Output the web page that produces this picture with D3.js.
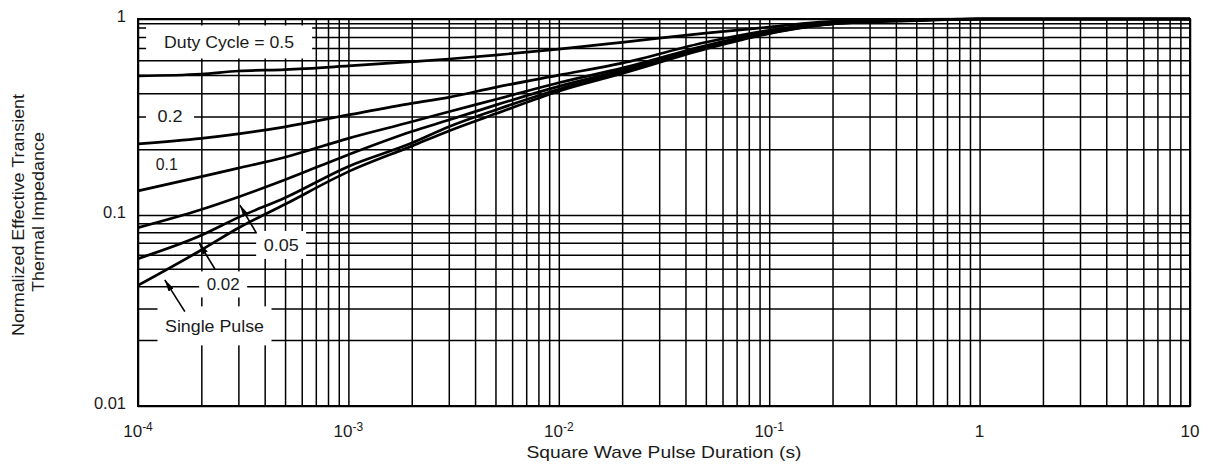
<!DOCTYPE html>
<html><head><meta charset="utf-8">
<script src="https://cdn.jsdelivr.net/npm/d3@7"></script>
<style>
html,body{margin:0;padding:0;background:#fff;}
svg{display:block;font-family:"Liberation Sans",Arial,Helvetica,sans-serif;}
</style></head>
<body><svg id="chart" width="1209" height="466"></svg>
<script>
// ---- data ----
const pulseDuration = [1e-4, 2e-4, 3e-4, 5e-4, 1e-3, 2e-3, 3e-3, 5e-3, 1e-2, 2e-2, 5e-2, 1e-1, 2e-1, 5e-1, 1, 10];
const duty05      = [0.495, 0.507, 0.526, 0.535, 0.56, 0.59, 0.61, 0.64, 0.69, 0.75, 0.84, 0.905, 0.97, 0.995, 1, 1];
const duty02      = [0.214, 0.229, 0.242, 0.264, 0.306, 0.353, 0.38, 0.43, 0.50, 0.58, 0.75, 0.87, 0.955, 0.99, 1, 1];
const duty01      = [0.129, 0.150, 0.164, 0.184, 0.229, 0.281, 0.318, 0.37, 0.455, 0.545, 0.72, 0.855, 0.95, 0.99, 1, 1];
const duty005     = [0.085, 0.106, 0.121, 0.145, 0.189, 0.249, 0.287, 0.345, 0.435, 0.53, 0.71, 0.85, 0.945, 0.985, 1, 1];
const duty002     = [0.057, 0.077, 0.097, 0.12, 0.167, 0.216, 0.264, 0.325, 0.42, 0.52, 0.70, 0.84, 0.94, 0.985, 1, 1];
const singlePulse = [0.0404, 0.0637, 0.0846, 0.112, 0.158, 0.208, 0.251, 0.31, 0.41, 0.51, 0.69, 0.835, 0.94, 0.98, 1, 1];
const seriesList = [duty05, duty02, duty01, duty005, duty002, singlePulse];

const xTickValues = [1e-4, 1e-3, 1e-2, 1e-1, 1, 10];
const xTickBase   = ["10", "10", "10", "10", "1", "10"];
const xTickExp    = ["-4", "-3", "-2", "-1", "", ""];
const yTickValues = [0.01, 0.1, 1];
const yTickLabels = ["0.01", "0.1", "1"];
const yExtraGrid  = [0.95];

const xTitle = "Square Wave Pulse Duration (s)";
const yTitle1 = "Normalized Effective Transient";
const yTitle2 = "Thermal Impedance";

// annotation labels, anchored in data space
const labels = [
  {text: "Duty Cycle = 0.5", t: 2.71e-4, z: 0.753},
  {text: "0.2",  t: 1.42e-4, z: 0.302},
  {text: "0.1",  t: 1.37e-4, z: 0.171},
  {text: "0.05", t: 4.79e-4, z: 0.068},
  {text: "0.02", t: 2.54e-4, z: 0.0409},
  {text: "Single Pulse", t: 2.31e-4, z: 0.024}
];
const arrows = [
  {t0: 3.66e-4, z0: 0.079,  t1: 3.05e-4, z1: 0.111},
  {t0: 2.32e-4, z0: 0.0499, t1: 1.95e-4, z1: 0.0698},
  {t0: 1.67e-4, z0: 0.0288, t1: 1.34e-4, z1: 0.0434}
];

// ---- layout / style ----
const L = 138, R = 1190, T = 19, B = 406;
const labelStyle = [
  {w: 130, bw: 166, bh: 33},
  {w: 25,  bw: 48,  bh: 30},
  {w: 22,  bw: 40,  bh: 22},
  {w: 35,  bw: 50,  bh: 28},
  {w: 33,  bw: 48,  bh: 26},
  {w: 99,  bw: 114, bh: 39}
];
const ink = "#1a1a1a";

const svg = d3.select("#chart");
const x = d3.scaleLog().domain([1e-4, 10]).range([L, R]);
const y = d3.scaleLog().domain([0.01, 0.02, 0.1, 0.2, 1]).range([B, 340, 215, 149.3, T]);

// grid values
const xGrid = [];
for (let e = -4; e <= 0; e++) for (let k = 1; k <= 9; k++) xGrid.push(k * Math.pow(10, e));
xGrid.push(10);
const yGrid = [];
for (let e = -2; e <= -1; e++) for (let k = 1; k <= 9; k++) yGrid.push(+(k * Math.pow(10, e)).toFixed(4));
yGrid.push(...yExtraGrid, 1);

const gx = svg.append("g").attr("transform", `translate(0,${B})`)
  .call(d3.axisBottom(x).tickValues(xGrid).tickSize(-(B - T)).tickFormat(""));
gx.select(".domain").remove();
gx.selectAll("line").attr("stroke", "#000").attr("stroke-width", 1.5);

const gy = svg.append("g").attr("transform", `translate(${L},0)`)
  .call(d3.axisLeft(y).tickValues(yGrid).tickSize(-(R - L)).tickFormat(""));
gy.select(".domain").remove();
gy.selectAll("line").attr("stroke", "#000").attr("stroke-width", 1.5);

svg.append("rect").attr("x", L).attr("y", T).attr("width", R - L).attr("height", B - T)
  .attr("fill", "none").attr("stroke", "#000").attr("stroke-width", 2);

// label background boxes (hide grid behind labels)
labels.forEach((d, i) => {
  const s = labelStyle[i];
  svg.append("rect")
    .attr("x", x(d.t) - s.bw / 2).attr("y", y(d.z) - s.bh / 2)
    .attr("width", s.bw).attr("height", s.bh).attr("fill", "#fff");
});

// curves
const line = d3.line().x((d, i) => x(pulseDuration[i])).y(d => y(d)).curve(d3.curveMonotoneX);
svg.append("g").selectAll("path").data(seriesList).join("path")
  .attr("d", line).attr("fill", "none").attr("stroke", "#000")
  .attr("stroke-width", 2.7).attr("stroke-linejoin", "round");

// label text
labels.forEach((d, i) => {
  svg.append("text")
    .attr("x", x(d.t)).attr("y", y(d.z)).attr("dy", "0.36em")
    .attr("text-anchor", "middle").attr("font-size", 16).attr("fill", ink)
    .attr("textLength", labelStyle[i].w).attr("lengthAdjust", "spacingAndGlyphs")
    .text(d.text);
});

// arrows
svg.append("defs").append("marker").attr("id", "ah")
  .attr("viewBox", "0 0 12 6").attr("refX", 12).attr("refY", 3)
  .attr("markerWidth", 12).attr("markerHeight", 6)
  .attr("markerUnits", "userSpaceOnUse").attr("orient", "auto")
  .append("path").attr("d", "M0,0 L12,3 L0,6 Z").attr("fill", "#000");
svg.append("g").selectAll("line").data(arrows).join("line")
  .attr("x1", d => x(d.t0)).attr("y1", d => y(d.z0))
  .attr("x2", d => x(d.t1)).attr("y2", d => y(d.z1))
  .attr("stroke", "#000").attr("stroke-width", 1.6).attr("marker-end", "url(#ah)");

// x tick labels
const xl = svg.append("g").selectAll("text").data(xTickValues).join("text")
  .attr("x", d => x(d)).attr("y", 437).attr("text-anchor", "middle")
  .attr("font-size", 17).attr("fill", ink);
xl.append("tspan").text((d, i) => xTickBase[i]);
xl.append("tspan").attr("font-size", 12).attr("dy", -6).text((d, i) => xTickExp[i]);

// y tick labels
svg.append("g").selectAll("text").data(yTickValues).join("text")
  .attr("x", 126).attr("y", d => y(d) - 3).attr("dy", "0.36em")
  .attr("text-anchor", "end").attr("font-size", 16.5).attr("fill", ink)
  .text((d, i) => yTickLabels[i]);

// axis titles
svg.append("text").attr("x", (L + R) / 2).attr("y", 458).attr("text-anchor", "middle")
  .attr("font-size", 17).attr("fill", ink)
  .attr("textLength", 275).attr("lengthAdjust", "spacingAndGlyphs").text(xTitle);
svg.append("text").attr("transform", "translate(18.5,215) rotate(-90)").attr("dy", "0.36em")
  .attr("text-anchor", "middle").attr("font-size", 16).attr("fill", ink)
  .attr("textLength", 242).attr("lengthAdjust", "spacingAndGlyphs").text(yTitle1);
svg.append("text").attr("transform", "translate(38,212) rotate(-90)").attr("dy", "0.36em")
  .attr("text-anchor", "middle").attr("font-size", 16).attr("fill", ink)
  .attr("textLength", 160).attr("lengthAdjust", "spacingAndGlyphs").text(yTitle2);
</script>
</body></html>
